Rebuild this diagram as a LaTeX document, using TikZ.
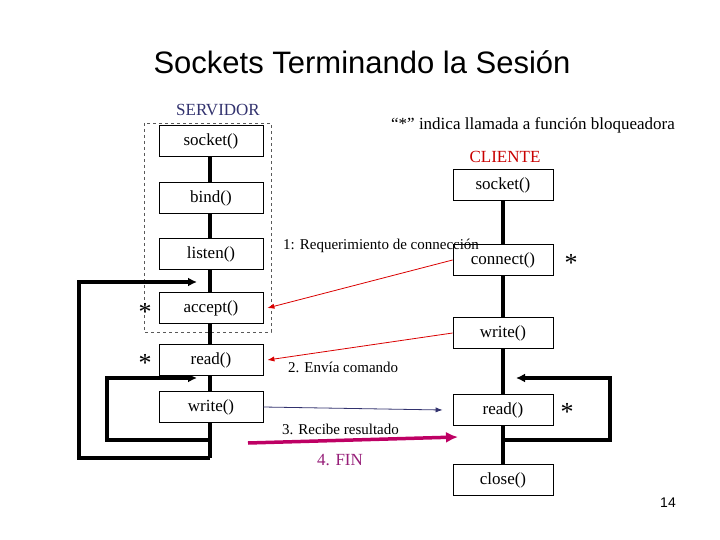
\documentclass[tikz,border=0pt]{standalone}
\usetikzlibrary{arrows.meta}
\usepackage{fontspec}
\setmainfont{Liberation Serif}
\newfontfamily\sansf{Liberation Sans}
\definecolor{srvblue}{RGB}{50,50,110}
\definecolor{clired}{RGB}{200,0,0}
\definecolor{finmag}{RGB}{190,0,100}
\definecolor{fintxt}{RGB}{150,30,120}
\begin{document}
\begin{tikzpicture}[x=1pt,y=-1pt,
  fn/.style={draw,thick,minimum width=104pt,minimum height=31pt,font=\fontsize{17}{17}\selectfont,inner sep=0pt,fill=white},
  cfn/.style={fn,minimum width=100pt},
  thk/.style={line width=4pt},
  lbl/.style={font=\fontsize{15}{15}\selectfont,anchor=west,inner sep=0pt},
  star/.style={font=\fontsize{26}{26}\selectfont,inner sep=0pt}]
\useasboundingbox (0,0) rectangle (720,540);
\node[font=\sansf\fontsize{31}{31}\selectfont] (title) at (362,62) {Sockets Terminando la Sesión};
\node[font=\fontsize{17}{17}\selectfont,text=srvblue] (srv) at (218,110) {SERVIDOR};
\node[font=\fontsize{17}{17}\selectfont] (note) at (533,125) {“*” indica llamada a función bloqueadora};
\node[font=\fontsize{17}{17}\selectfont,text=clired] (cli) at (505,157) {CLIENTE};
\draw[dashed,gray!70!black] (144,123) rectangle (271,332);
% server line and loops
\coordinate (s0) at (210,141); \coordinate (s1) at (210,458); \coordinate (s2) at (210,440);
\draw[thk] (s0) -- (s1);
\coordinate (o1) at (79,458); \coordinate (o2) at (79,282); \coordinate (o3) at (197,282);
\draw[thk,-{Latex[length=9pt,width=9pt]}] (s1) -- (o1) -- (o2) -- (o3);
\coordinate (i1) at (107,440); \coordinate (i2) at (107,378); \coordinate (i3) at (197,378);
\draw[thk,-{Latex[length=9pt,width=9pt]}] (s2) -- (i1) -- (i2) -- (i3);
% client line and loop
\coordinate (c0) at (503,185); \coordinate (c1) at (503,480); \coordinate (c2) at (503,440);
\draw[thk] (c0) -- (c1);
\coordinate (k1) at (610,440); \coordinate (k2) at (610,378); \coordinate (k3) at (516,378);
\draw[thk,-{Latex[length=9pt,width=9pt]}] (c2) -- (k1) -- (k2) -- (k3);
% boxes
\node[fn] (socket) at (211,141) {socket()};
\node[fn] (bind) at (211,198) {bind()};
\node[fn] (listen) at (211,254) {listen()};
\node[fn] (accept) at (211,308) {accept()};
\node[fn] (sread) at (211,360) {read()};
\node[fn] (swrite) at (211,407) {write()};
\node[cfn] (csocket) at (503,185) {socket()};
\node[cfn] (connect) at (503,260) {connect()};
\node[cfn] (cwrite) at (503,333) {write()};
\node[cfn] (cread) at (503,410) {read()};
\node[cfn] (close) at (503,480) {close()};
% stars
\node[star] (st1) at (145,312) {*};
\node[star] (st2) at (145,363) {*};
\node[star] (st3) at (571,263) {*};
\node[star] (st4) at (567,412) {*};
% messages
\draw[red!85!black,thick,-{Latex[length=7pt]}] (connect.west) -- ([xshift=4pt]accept.east);
\draw[red!85!black,thick,-{Latex[length=7pt]}] (cwrite.west) -- ([xshift=4pt]sread.east);
\draw[srvblue,thick,-{Latex[length=7pt]}] (swrite.east) -- ([xshift=-10pt]cread.west);
\coordinate (f0) at (248,443); \coordinate (f1) at (458,437);
\draw[finmag,line width=3.5pt,-{Latex[length=12pt,width=11pt]}] (f0) -- (f1);
\node[lbl] (l1) at (283,246) {1: Requerimiento de connección};
\node[lbl] (l2) at (288,367) {2. Envía comando};
\node[lbl] (l3) at (282,429) {3. Recibe resultado};
\node[font=\fontsize{17}{17}\selectfont,text=fintxt] (l4) at (340,460) {4. FIN};
\node[font=\sansf\fontsize{14}{14}\selectfont] (pg) at (668,503) {14};
\end{tikzpicture}
\end{document}
